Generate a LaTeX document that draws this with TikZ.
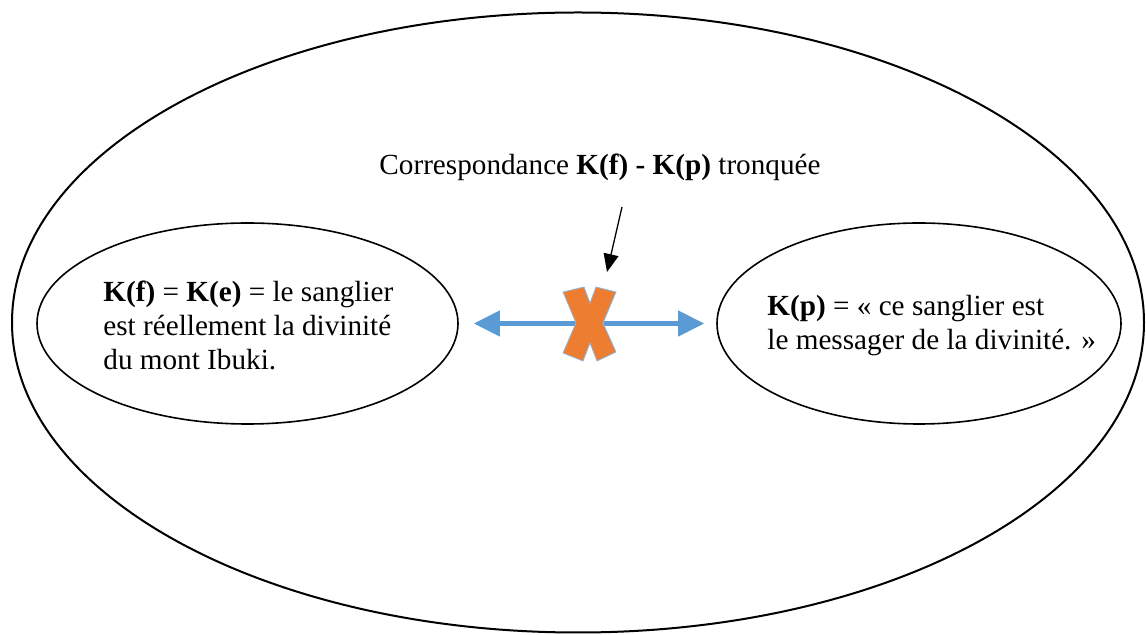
\documentclass[tikz,border=0pt]{standalone}
\usepackage{fontspec}
\setmainfont{Liberation Serif}
\usetikzlibrary{shapes.geometric,arrows.meta,positioning}
\definecolor{flechebleue}{RGB}{91,155,213}
\definecolor{croixorange}{RGB}{237,125,49}

\begin{document}
\begin{tikzpicture}[x=0.5pt, y=-0.5pt,
    bulle/.style={ellipse, draw, line width=0.8pt, inner sep=0pt},
    texte/.style={align=left, font=\fontsize{14.6}{17}\selectfont, inner sep=0pt},
    lien/.style={line width=2.2pt, flechebleue, {Triangle[length=13pt,width=12.5pt]}-{Triangle[length=13pt,width=12.5pt]}},
    renvoi/.style={line width=0.65pt, -{Triangle[length=9pt,width=7.5pt]}},
]
    \useasboundingbox (0,0) rectangle (1146,635);

    % Ensemble
    \node[bulle, line width=1pt, minimum width=566pt, minimum height=310pt] (ensemble) at (578,322.5) {};

    % Les deux cadres
    \node[bulle, minimum width=210.5pt, minimum height=100.5pt] (fictif) at (247.5,323.5) {};
    \node[bulle, minimum width=202pt, minimum height=100.5pt] (reel) at (919,323.5) {};

    % Textes
    \node[texte, anchor=north west] (txtfictif) at (103,281) {\textbf{K(f)} = \textbf{K(e)} = le sanglier\\est réellement la divinité\\du mont Ibuki.};
    \node[texte, anchor=north west] (txtreel) at (767,295) {\textbf{K(p)} = « ce sanglier est\\le messager de la divinité. »};
    \node[texte, anchor=base] (titre) at (600,175) {Correspondance \textbf{K(f) - K(p)} tronquée};

    % Correspondance
    \draw[lien] ([xshift=7.5pt]fictif.east) -- ([xshift=-6pt]reel.west);

    % Croix
    \fill[croixorange, draw=flechebleue!70, line width=0.4pt] (563,292) -- (584,287) -- (590,303) -- (596,287) -- (616,292) -- (603,323) -- (616,352) -- (597,361) -- (590,343) -- (583,361) -- (563,353) -- (576,323) -- cycle;

    % Renvoi du titre
    \coordinate (amorce) at (622,207);
    \coordinate (pointe) at (607,272);
    \draw[renvoi] (amorce) -- (pointe);
\end{tikzpicture}
\end{document}
